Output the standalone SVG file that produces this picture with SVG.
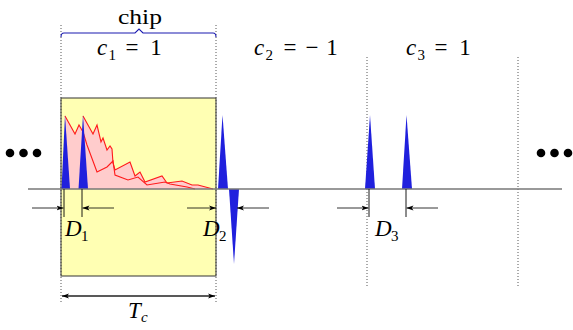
<svg xmlns="http://www.w3.org/2000/svg" width="573" height="330" viewBox="0 0 573 330">
<defs>
<marker id="ah" viewBox="0 0 10 10" refX="10" refY="5" markerWidth="7" markerHeight="7" orient="auto-start-reverse" markerUnits="userSpaceOnUse">
<path d="M0,1.5 L10,5 L0,8.5 L2.5,5 Z" fill="#000"/>
</marker>
</defs>
<style>
text{font-family:"Liberation Serif","Times New Roman",serif;fill:#000}
.m{font-size:23px}
.s{font-size:15px}
.i{font-style:italic}
.dot{stroke:#444;stroke-width:0.9;stroke-dasharray:1 2;fill:none}
.pink{fill:#ffcccc;stroke:none}
.red{fill:none;stroke:#ff1a1a;stroke-width:1.1;stroke-linejoin:miter}
.pulse{fill:#2020dd;stroke:none}
.arr{stroke:#000;stroke-width:0.8;fill:none;marker-end:url(#ah)}
.tick{stroke:#000;stroke-width:0.9}
</style>

<g id="chip-box">
<rect x="61" y="98" width="155" height="178" fill="#ffffb3" stroke="#333" stroke-width="1"/>
</g>

<g id="dotted-lines">
<line class="dot" x1="61" y1="25" x2="61" y2="302"/>
<line class="dot" x1="216" y1="25" x2="216" y2="302"/>
<line class="dot" x1="367" y1="57" x2="367" y2="286"/>
<line class="dot" x1="518" y1="57" x2="518" y2="286"/>
</g>

<g id="chip-brace">
<path d="M61,37 Q61,33 64,33 L135,33 L139,29 L143,33 L213,33 Q216,33 216,37" fill="none" stroke="#1a1ab0" stroke-width="1.1"/>
<text x="118" y="24" font-size="22" textLength="44" lengthAdjust="spacingAndGlyphs">chip</text>
</g>

<g id="labels-c">
<text class="m i" x="97" y="55">c</text><text class="s" x="108.5" y="60">1</text><text class="m" x="132" y="55" text-anchor="middle">=</text><text class="m" x="156" y="55" text-anchor="middle">1</text>
<text class="m i" x="254" y="55">c</text><text class="s" x="265.5" y="60">2</text><text class="m" x="290" y="55" text-anchor="middle">=</text><text class="m" x="312" y="55" text-anchor="middle">−</text><text class="m" x="332" y="55" text-anchor="middle">1</text>
<text class="m i" x="406" y="55">c</text><text class="s" x="417.5" y="60">3</text><text class="m" x="441" y="55" text-anchor="middle">=</text><text class="m" x="465" y="55" text-anchor="middle">1</text>
</g>

<g id="multipath">
<polygon class="pink" points="65,116 75,134 79,125 83,132 87,145 97,172 107,167 113,161 115,175 128,180 138,177 147,185 165,182 170,184 187,187 195,189 65,189"/>
<polygon class="pink" points="83,116 93,134 97,125 101,142 103,138 107,150 110,146 112,149 113,163 115,170 130,162 135,176 140,172 145,182 162,176 167,183 182,181 192,185 198,185 213,189 83,189"/>
<polyline class="red" points="65,116 75,134 79,125 83,132 87,145 97,172 107,167 113,161 115,175 128,180 138,177 147,185 165,182 170,184 187,187 195,189"/>
<polyline class="red" points="83,116 93,134 97,125 101,142 103,138 107,150 110,146 112,149 113,163 115,170 130,162 135,176 140,172 145,182 162,176 167,183 182,181 192,185 198,185 213,189"/>
</g>

<g id="pulses">
<polygon class="pulse" points="61.5,189 65,115 70,189"/>
<polygon class="pulse" points="78.5,189 83,115 88,189"/>
<polygon class="pulse" points="218,189 222.5,115 228,189"/>
<polygon class="pulse" points="229,189 234,264 239,189"/>
<polygon class="pulse" points="365,189 370,115 375,189"/>
<polygon class="pulse" points="402,189 406.5,115 412,189"/>
</g>

<g id="axis">
<line x1="28" y1="189" x2="562" y2="189" stroke="#777" stroke-width="1.4"/>
</g>

<g id="ellipsis-left">
<circle cx="10" cy="153" r="4.3" fill="#000"/>
<circle cx="23.5" cy="153" r="4.3" fill="#000"/>
<circle cx="37" cy="153" r="4.3" fill="#000"/>
</g>
<g id="ellipsis-right">
<circle cx="541" cy="153" r="4.3" fill="#000"/>
<circle cx="554.5" cy="153" r="4.3" fill="#000"/>
<circle cx="568" cy="153" r="4.3" fill="#000"/>
</g>

<g id="connectors">
<line class="tick" x1="64" y1="189" x2="64" y2="217"/>
<line class="tick" x1="82" y1="189" x2="82" y2="217"/>
<line class="arr" x1="32" y1="208" x2="63.5" y2="208"/>
<line class="arr" x1="114" y1="208" x2="82.5" y2="208"/>
<line class="arr" x1="187" y1="208" x2="216" y2="208"/>
<line class="arr" x1="269" y1="208" x2="237" y2="208"/>
<line class="tick" x1="369" y1="189" x2="369" y2="217"/>
<line class="tick" x1="406" y1="189" x2="406" y2="217"/>
<line class="arr" x1="337" y1="208" x2="368.5" y2="208"/>
<line class="arr" x1="438" y1="208" x2="406.5" y2="208"/>
<line x1="62" y1="296" x2="215" y2="296" stroke="#222" stroke-width="1.3" marker-start="url(#ah)" marker-end="url(#ah)"/>
</g>

<g id="labels-d">
<text class="m i" x="65" y="236">D</text><text class="s" x="81" y="241">1</text>
<text class="m i" x="203" y="236">D</text><text class="s" x="219" y="241">2</text>
<text class="m i" x="375" y="236">D</text><text class="s" x="391" y="241">3</text>
<text class="m i" x="128" y="318">T</text><text class="s i" x="141" y="322">c</text>
</g>
</svg>
